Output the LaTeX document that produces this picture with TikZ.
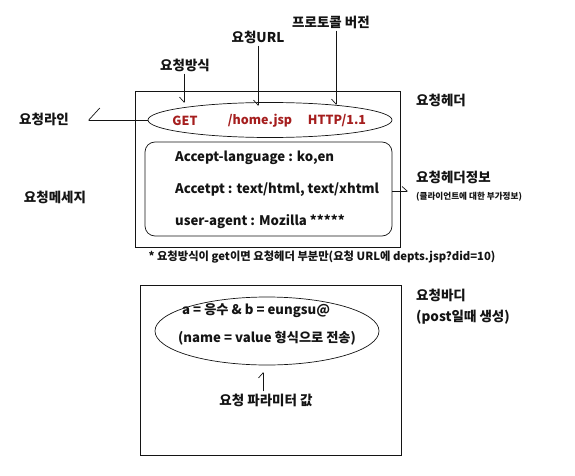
\documentclass[tikz,border=0pt]{standalone}
\usepackage{fontspec}
\setmainfont{Noto Sans CJK KR}
\usetikzlibrary{arrows.meta,shapes.geometric}
\usepackage{xcolor}
\definecolor{reqred}{RGB}{165,30,30}
\definecolor{inkblack}{RGB}{20,20,20}

\tikzset{
  lbl/.style={font=\fontsize{13.5}{15}\selectfont\bfseries, inner sep=2pt, text=inkblack},
  small/.style={font=\fontsize{8.6}{10}\selectfont\bfseries, inner sep=1pt, text=inkblack},
  note/.style={font=\fontsize{11.3}{13}\selectfont\bfseries, inner sep=1pt, text=inkblack},
  field/.style={font=\fontsize{12.5}{14}\selectfont\bfseries, text=reqred, inner sep=1pt},
  hline/.style={font=\fontsize{13.2}{15}\selectfont\bfseries, anchor=west, inner sep=0pt, text=inkblack},
  dnarrow/.style={draw=inkblack, line width=0.7pt, -{Straight Barb[harpoon,swap,length=5pt,width=9pt]}},
  sidearrow/.style={draw=inkblack, line width=0.7pt, -{Straight Barb[harpoon,length=5pt,width=9pt]}}
}

\begin{document}
\begin{tikzpicture}[x=1pt,y=-1pt]
  \useasboundingbox (0,0) rectangle (575,476);

  % Request header frame
  \draw[inkblack, line width=0.8pt] (135,91) rectangle (400,247);

  % Request line
  \node[draw=inkblack, ellipse, line width=0.7pt, minimum width=244pt, minimum height=35pt] (reqline) at (270,120) {};
  \node[field] (get)  at (185,121) {GET};
  \node[field] (url)  at (260,121) {/home.jsp};
  \node[field] (ver)  at (337,121) {HTTP/1.1};

  % Header fields
  \node[draw=inkblack, rounded corners=10pt, line width=0.7pt, minimum width=247pt, minimum height=94pt] (hdrinfo) at (268.5,189) {};
  \node[hline] (lang)  at (175,158) {Accept-language : ko,en};
  \node[hline] (acc)   at (175,190) {Accetpt : text/html, text/xhtml};
  \node[hline] (agent) at (175,222) {user-agent : Mozilla *****};

  % Labels above the request line
  \node[lbl] (method) at (185,65) {요청방식};
  \node[lbl] (urllbl) at (258,37) {요청URL};
  \node[lbl] (proto)  at (331,22) {프로토콜 버전};
  \coordinate (methodin) at (184,103);
  \coordinate (urlin)    at (258,106);
  \coordinate (protoin)  at (336,105);
  \draw[dnarrow] (methodin |- method.south) -- (methodin);
  \draw[dnarrow] (urlin |- urllbl.south) -- (urlin);
  \draw[dnarrow] (protoin |- proto.south) -- (protoin);

  % Left side labels
  \node[lbl] (linelbl) at (44,119) {요청라인};
  \node[lbl] (msglbl)  at (55,197) {요청메세지};
  \coordinate (lineout) at (88,120);
  \draw[draw=inkblack, line width=0.7pt, -{Straight Barb[harpoon,swap,length=11pt,width=24pt]}] (reqline.west) -- (lineout);

  % Right side labels
  \node[lbl, anchor=west] (hdrlbl)  at (414,100) {요청헤더};
  \node[lbl, anchor=west] (infolbl) at (414,177) {요청헤더정보};
  \node[small, anchor=west] (infosub) at (415,197) {(클라이언트에 대한 부가정보)};
  \coordinate (infoout) at (408,191);
  \draw[sidearrow] (infoout -| hdrinfo.east) -- (infoout);

  % Note under the header
  \node[note] (getnote) at (322,257) {* 요청방식이 get이면 요청헤더 부분만(요청 URL에 depts.jsp?did=10)};

  % Request body frame
  \draw[inkblack, line width=0.8pt] (140,285) rectangle (401,455);
  \node[draw=inkblack, ellipse, line width=0.7pt, minimum width=224pt, minimum height=68pt] (params) at (267,331) {};
  \node[hline] (pair) at (182,311) {a = 응수 \& b = eungsu@};
  \node[hline] (fmt)  at (178,338) {(name = value 형식으로 전송)};
  \node[lbl] (paramlbl) at (266,400) {요청 파라미터 값};
  \coordinate (paramin) at (263,372);
  \draw[sidearrow] (paramin |- paramlbl.north) -- (paramin);

  \node[lbl, anchor=west] (bodylbl) at (414,295) {요청바디};
  \node[lbl, anchor=west] (bodysub) at (414,317) {(post일때 생성)};
\end{tikzpicture}
\end{document}
